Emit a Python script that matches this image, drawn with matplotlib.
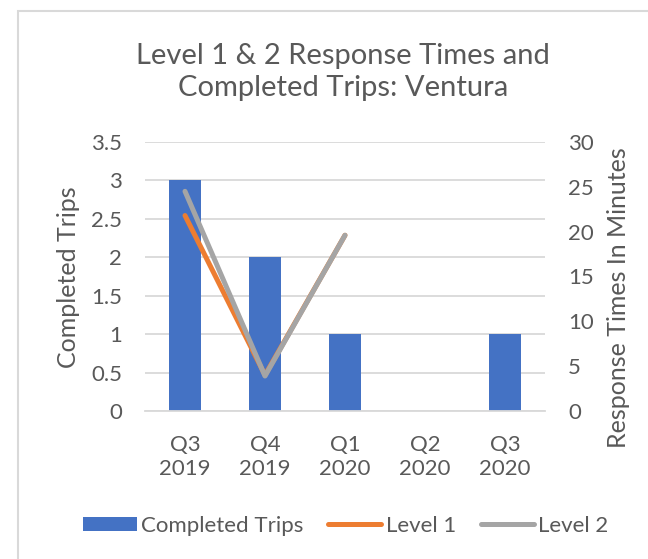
import numpy as np
import matplotlib.pyplot as plt
from matplotlib.patches import Rectangle

# -------------------
# Data
# -------------------
quarters = ["Q3\n2019", "Q4\n2019", "Q1\n2020", "Q2\n2020", "Q3\n2020"]
completed_trips = [3, 2, 1, 0, 1]
level1 = [21.8, 4.0, 19.6, np.nan, np.nan]
level2 = [24.5, 3.9, 19.6, np.nan, np.nan]

plt.rcParams["font.family"] = ["Lato", "DejaVu Sans"]
text_col = "#595959"

fig = plt.figure(figsize=(6.48, 5.59), dpi=100)
ax1 = fig.add_axes([145 / 648, 1 - 411 / 559, 400 / 648, 269 / 559])
ax2 = ax1.twinx()

x = np.arange(len(quarters))
bars = ax1.bar(x, completed_trips, width=0.4, color="#4472C4", label="Completed Trips", zorder=2)
l1, = ax2.plot(x, level1, color="#ED7D31", lw=3.6, solid_capstyle="round", label="Level 1")
l2, = ax2.plot(x, level2, color="#A5A5A5", lw=3.6, solid_capstyle="round", label="Level 2")

ax1.set_xlim(-0.5, 4.5)
ax1.set_ylim(0, 3.5)
ax1.set_yticks(np.arange(0, 3.51, 0.5))
ax1.set_yticklabels(["0", "0.5", "1", "1.5", "2", "2.5", "3", "3.5"])
ax2.set_ylim(0, 30)
ax2.set_yticks(range(0, 31, 5))

ax1.grid(axis="y", color="#D9D9D9", lw=1.3, zorder=0)
ax1.set_axisbelow(True)
for ax in (ax1, ax2):
    for s in ax.spines.values():
        s.set_visible(False)
ax1.spines["bottom"].set_visible(True)
ax1.spines["bottom"].set_color("#D9D9D9")
ax1.spines["bottom"].set_linewidth(1.3)

ax1.set_xticks(x)
ax1.set_xticklabels(quarters, linespacing=1.3)
ax1.tick_params(axis="x", length=0, pad=17, labelsize=16, colors=text_col)
ax1.tick_params(axis="y", length=0, pad=16.5, labelsize=16, colors=text_col)
ax2.tick_params(axis="y", length=0, pad=16.5, labelsize=16, colors=text_col)

# Labels & title
fig.text(68 / 648, 1 - 277 / 559, "Completed Trips", rotation=90, ha="center", va="center",
         fontsize=18, color=text_col)
fig.text(618 / 648, 1 - 298 / 559, "Response Times In Minutes", rotation=90, ha="center",
         va="center", fontsize=18, color=text_col)
fig.text(343 / 648, 1 - 72 / 559, "Level 1 & 2 Response Times and\nCompleted Trips: Ventura",
         ha="center", va="center", fontsize=21, color=text_col, linespacing=1.3)

fig.legend(handles=[bars, l1, l2], loc="center", bbox_to_anchor=(346 / 648, 1 - 526 / 559),
           ncol=3, frameon=False, fontsize=16, labelcolor=text_col, handlelength=2.4,
           handleheight=0.63, handletextpad=0.2, columnspacing=1.1, borderpad=0)

# chart area border
fig.patches.append(Rectangle((18 / 648, -0.1), 1.2, 1.1 - 11 / 559, transform=fig.transFigure,
                             fill=False, edgecolor="#D9D9D9", lw=1.5))

fig.savefig("out.png", dpi=100)
